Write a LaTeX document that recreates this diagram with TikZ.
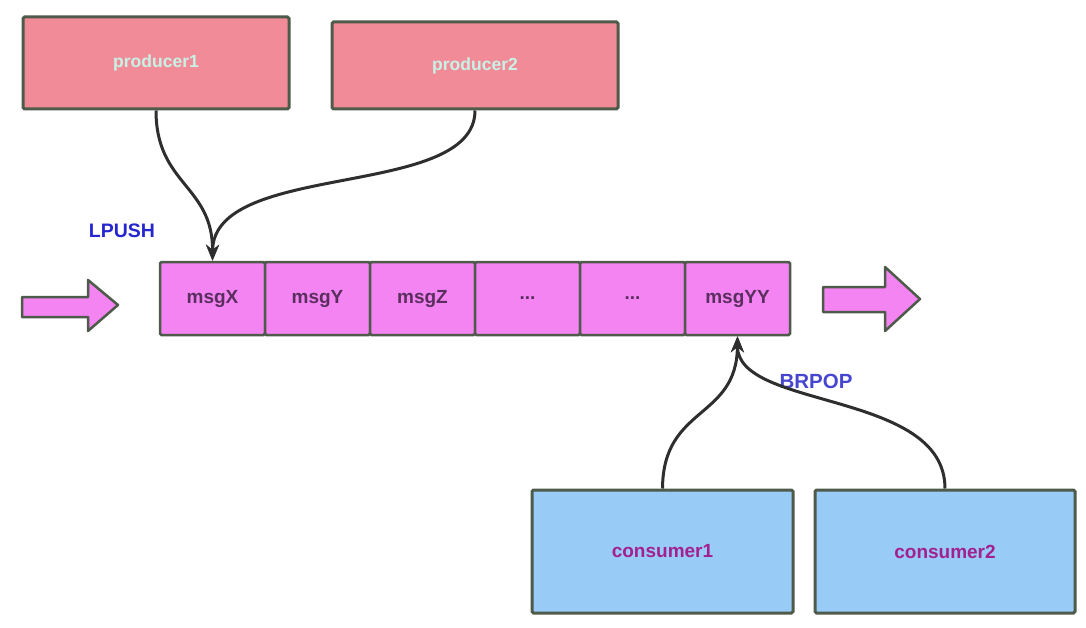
\documentclass[tikz,border=0pt]{standalone}
\usepackage{fontspec}
\setmainfont{Liberation Sans}
\usetikzlibrary{arrows.meta}
\definecolor{prodfill}{HTML}{F28B98}
\definecolor{consfill}{HTML}{99CBF7}
\definecolor{cellfill}{HTML}{F384F2}
\definecolor{edge}{HTML}{4E5A4A}
\definecolor{prodtext}{HTML}{C9F2E6}
\definecolor{constext}{HTML}{A3208F}
\definecolor{celltext}{HTML}{5A2E5E}
\definecolor{cmdblue}{HTML}{2626D0}
\definecolor{cmdblue2}{HTML}{4646D0}
\definecolor{wire}{HTML}{2E2E2E}
\tikzset{
  boxbase/.style={draw=edge, line width=3pt, rounded corners=1.5pt, inner sep=0pt},
  prodbox/.style={boxbase, fill=prodfill, text=prodtext, font=\fontsize{17.5}{20}\selectfont\bfseries},
  consbox/.style={boxbase, fill=consfill, text=constext, font=\fontsize{19}{22}\selectfont\bfseries},
  cellbox/.style={boxbase, fill=cellfill, text=celltext, minimum width=105pt, minimum height=73pt, line width=2.5pt, font=\fontsize{19}{22}\selectfont\bfseries},
  wirearrow/.style={draw=wire, line width=3pt, -{Stealth[length=16pt,width=13pt]}},
  blockarrow/.style={draw=edge, fill=cellfill, line width=2.5pt, line join=round},
  cmdlabel/.style={font=\fontsize{19.5}{22}\selectfont\bfseries}
}
\begin{document}
\begin{tikzpicture}[x=1pt,y=-1pt]
\useasboundingbox (0,0) rectangle (1086,628);
% producers
\node[prodbox, minimum width=266pt, minimum height=92pt] (p1) at (156,63) {producer1};
\node[prodbox, minimum width=286pt, minimum height=87pt] (p2) at (475,65.5) {producer2};
% queue cells
\node[cellbox] (c1) at (212.5,298.5) {msgX};
\node[cellbox] (c2) at (317.5,298.5) {msgY};
\node[cellbox] (c3) at (422.5,298.5) {msgZ};
\node[cellbox] (c4) at (527.5,298.5) {...};
\node[cellbox] (c5) at (632.5,298.5) {...};
\node[cellbox] (c6) at (737.5,298.5) {msgYY};
% consumers
\node[consbox, minimum width=261pt, minimum height=123pt] (k1) at (662.5,551.5) {consumer1};
\node[consbox, minimum width=260pt, minimum height=123pt] (k2) at (945,551.5) {consumer2};
% labels
\node[cmdlabel, text=cmdblue] (lpush) at (122,231) {LPUSH};
\node[cmdlabel, text=cmdblue2, font=\fontsize{20.5}{23}\selectfont\bfseries] (brpop) at (816,381) {BRPOP};
% block arrows
\draw[blockarrow] (22,297) -- (88,297) -- (88,280) -- (118,305) -- (88,331) -- (88,317) -- (22,317) -- cycle;
\draw[blockarrow] (823,287) -- (885,287) -- (885,267) -- (920,299) -- (885,331) -- (885,312) -- (823,312) -- cycle;
% connectors
\draw[wirearrow] (p1.south) .. controls (156,185) and (213,185) .. (c1.north);
\draw[wirearrow] (p2.south) .. controls (475,200) and (213,160) .. (c1.north);
\draw[wirearrow] (k1.north) .. controls (663,405) and (737,420) .. (c6.south);
\draw[wirearrow] (k2.north) .. controls (945,390) and (737,410) .. (c6.south);
\end{tikzpicture}
\end{document}
